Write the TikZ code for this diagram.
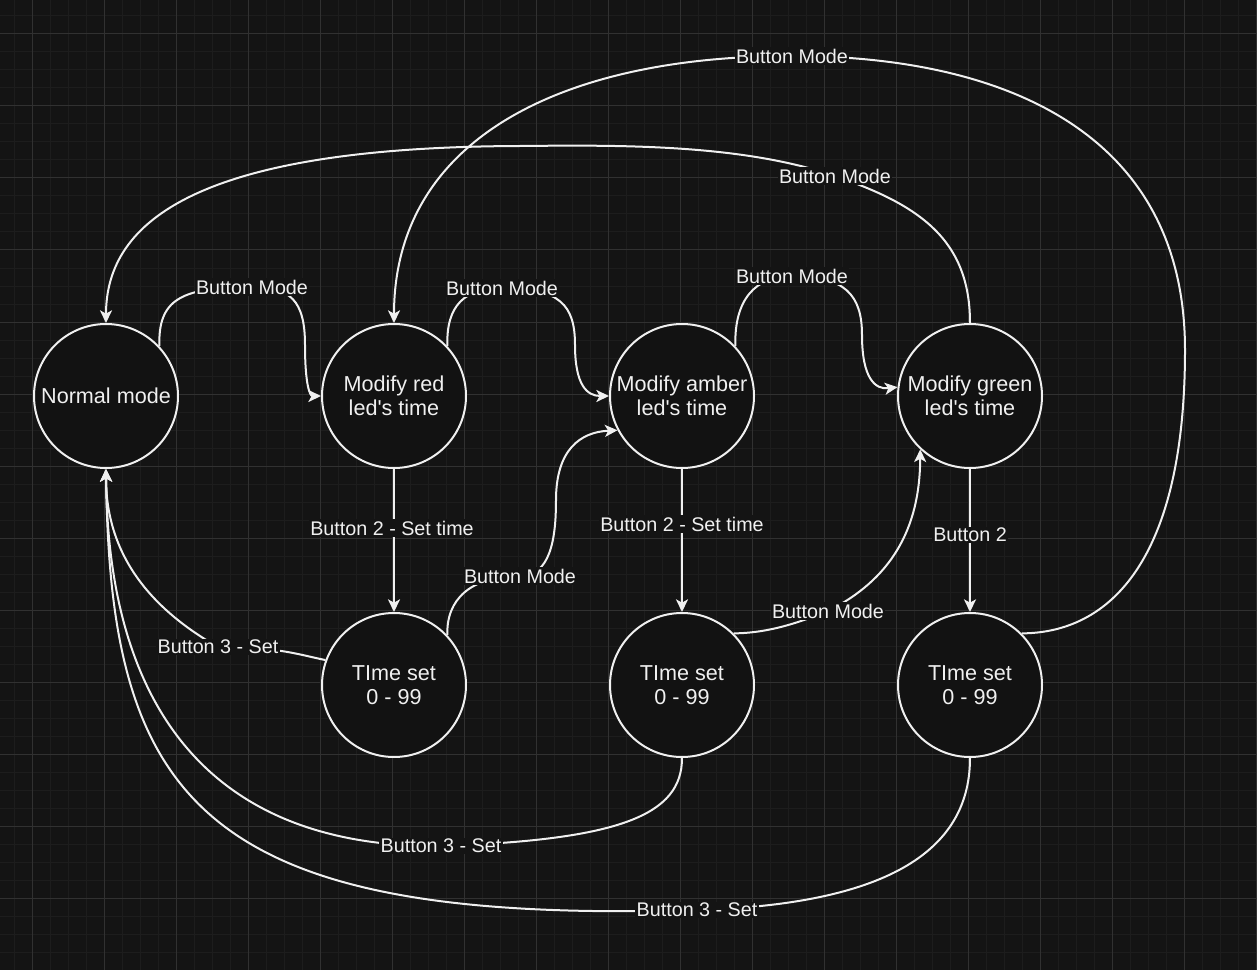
\documentclass[tikz,border=0pt]{standalone}
\usepackage{fontspec}
\setmainfont{Liberation Sans}
\usepackage{xcolor}
\usepackage{tikz}
\usetikzlibrary{arrows.meta}

\definecolor{canvas}{HTML}{141414}
\definecolor{minorline}{HTML}{1D1D1D}
\definecolor{majorline}{HTML}{313131}
\definecolor{ink}{HTML}{F0F0F0}
\definecolor{statefill}{HTML}{121212}

\pgfdeclarelayer{back}
\pgfdeclarelayer{wires}
\pgfsetlayers{back,wires,main}

\begin{document}
\begin{tikzpicture}[x=0.75pt,y=-0.75pt,>={Stealth[length=9.5pt,width=9pt,inset=2.5pt]},line join=round,
  state/.style={circle,draw=ink,line width=1.5pt,fill=statefill,text=ink,minimum size=108pt,inner sep=0pt,
    align=center,font=\fontsize{16.2}{18}\selectfont},
  lbl/.style={fill=canvas,text=ink,inner sep=1pt,font=\fontsize{14.8}{17}\selectfont},
  edge/.style={draw=ink,line width=1.5pt,->},
  minorgrid/.style={draw=minorline,line width=0.75pt},
  majorgrid/.style={draw=majorline,line width=0.75pt}]
  \useasboundingbox (0,0) rectangle (1257,970);
  \begin{pgfonlayer}{back}
    \fill[canvas] (0,0) rectangle (1257,970);
    \foreach \gx in {14,32,...,1256} \draw[minorgrid] (\gx,0) -- (\gx,970);
    \foreach \gy in {16,34,...,969} \draw[minorgrid] (0,\gy) -- (1257,\gy);
    \foreach \gx in {32,104,...,1256} \draw[majorgrid] (\gx,0) -- (\gx,970);
    \foreach \gy in {34,106,...,969} \draw[majorgrid] (0,\gy) -- (1257,\gy);
  \end{pgfonlayer}
  % states
  \node[state] (normal) at (106,396) {Normal mode};
  \node[state] (red) at (394,396) {Modify red\\led\textquotesingle s time};
  \node[state] (amber) at (682,396) {Modify amber\\led\textquotesingle s time};
  \node[state] (green) at (970,396) {Modify green\\led\textquotesingle s time};
  \node[state] (time1) at (394,685) {TIme set\\0 - 99};
  \node[state] (time2) at (682,685) {TIme set\\0 - 99};
  \node[state] (time3) at (970,685) {TIme set\\0 - 99};
  % labels
  \node[lbl] (l1) at (252,287) {Button Mode};
  \node[lbl] (l2) at (502,288) {Button Mode};
  \node[lbl] (l3) at (792,276) {Button Mode};
  \node[lbl] (l4) at (835,176) {Button Mode};
  \node[lbl] (l5) at (792,56) {Button Mode};
  \node[lbl] (l6) at (392,528) {Button 2 - Set time};
  \node[lbl] (l7) at (682,524) {Button 2 - Set time};
  \node[lbl] (l8) at (970,535) {Button 2};
  \node[lbl] (l9) at (520,576) {Button Mode};
  \node[lbl] (l10) at (828,611) {Button Mode};
  \node[lbl] (l11) at (218,647) {Button 3 - Set};
  \node[lbl] (l12) at (441,846) {Button 3 - Set};
  \node[lbl] (l13) at (697,910) {Button 3 - Set};
  \begin{pgfonlayer}{wires}
    \draw[edge] (normal.43) .. controls (158,300) and (180,287) .. (l1.center)
      .. controls (290,287) and (305,300) .. (305,345) .. controls (305,385) and (310,396) .. (red.west);
    \draw[edge] (red.43) .. controls (446,305) and (465,288) .. (l2.center)
      .. controls (560,288) and (575,305) .. (575,345) .. controls (575,385) and (587,396) .. (amber.west);
    \draw[edge] (amber.43) .. controls (734,300) and (755,276) .. (l3.center)
      .. controls (845,276) and (862,295) .. (862,335) .. controls (862,378) and (875,390) .. (green.173);
    \draw[edge] (green.north) .. controls (970,240) and (920,205) .. (l4.center)
      .. controls (741,144) and (620,145) .. (520,146) .. controls (200,147) and (106,220) .. (normal.north);
    \draw[edge] (time3.45) .. controls (1110,633) and (1185,560) .. (1185,350)
      .. controls (1185,130) and (1000,56) .. (l5.center) .. controls (560,56) and (394,140) .. (red.north);
    \draw[edge] (red.south) -- (time1.north);
    \draw[edge] (amber.south) -- (time2.north);
    \draw[edge] (green.south) -- (time3.north);
    \draw[edge] (time1.43) .. controls (446,600) and (470,576) .. (l9.center)
      .. controls (550,576) and (556,540) .. (556,500) .. controls (556,450) and (580,432) .. (amber.208);
    \draw[edge] (time2.45) .. controls (770,633) and (800,622) .. (l10.center)
      .. controls (890,580) and (920,530) .. (green.227);
    \draw[edge] (time1.160) .. controls (300,655) and (280,647) .. (l11.center)
      .. controls (146,606) and (106,551) .. (normal.south);
    \draw[edge] (time2.south) .. controls (682,815) and (620,840) .. (l12.center)
      .. controls (230,848) and (108,730) .. (normal.south);
    \draw[edge] (time3.south) .. controls (970,860) and (870,905) .. (l13.center)
      .. controls (200,925) and (110,800) .. (normal.south);
  \end{pgfonlayer}
\end{tikzpicture}
\end{document}
